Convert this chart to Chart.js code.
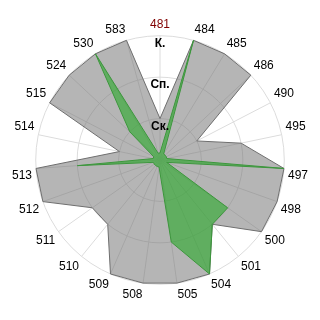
<!DOCTYPE html>
<html>
<head>
<meta charset="utf-8">
<script src="https://cdn.jsdelivr.net/npm/chart.js@4"></script>
<style>
  html, body { margin: 0; padding: 0; background: #fff; }
  #wrap { width: 320px; height: 320px; }
</style>
</head>
<body>
<div id="wrap"><canvas id="radarChart"></canvas></div>
<script>
// categories clockwise from the top
const categories = ['481', '484', '485', '486', '490', '495', '497', '498', '500', '501', '504', '505',
                    '508', '509', '510', '511', '512', '513', '514', '515', '524', '530', '583'];
// level names for the rings 1..3
const levelLabels = ['Ск.', 'Сп.', 'К.'];
const levelValues = [1, 2, 3];

const greySeries  = [1, 3, 3, 3, 1, 2, 3, 3, 3, 2, 3, 3, 3, 3, 2, 2, 3, 3, 1, 3, 3, 3, 3];
const greenSeries = [0.17, 3, 0.17, 0.17, 0.17, 0.17, 3, 0.17, 2, 2, 3, 2,
                     0.17, 0.17, 0.17, 0.17, 0.17, 2, 0.17, 0.17, 1, 3, 0.17];

// draws the ring names just inside each ring, on top of the data
const levelLabelPlugin = {
    id: 'levelLabels',
    afterDatasetsDraw(chart) {
        const scale = chart.scales.r;
        const ctx = chart.ctx;
        ctx.save();
        ctx.font = 'bold 12px "Liberation Sans", Arial, sans-serif';
        ctx.fillStyle = '#000';
        ctx.textAlign = 'center';
        ctx.textBaseline = 'top';
        levelValues.forEach((v, i) => {
            const d = scale.getDistanceFromCenterForValue(v);
            ctx.fillText(levelLabels[i], scale.xCenter, scale.yCenter - d + 2);
        });
        ctx.restore();
    }
};

const ctx = document.getElementById('radarChart').getContext('2d');
new Chart(ctx, {
    type: 'radar',
    data: {
        labels: categories,
        datasets: [{
            data: greenSeries,
            order: 0,
            backgroundColor: 'rgba(40, 170, 40, 0.6)',
            borderColor: 'rgb(60, 150, 60)',
            borderWidth: 1,
            fill: true
        }, {
            data: greySeries,
            order: 1,
            backgroundColor: 'rgba(120, 120, 120, 0.55)',
            borderColor: 'rgb(110, 110, 110)',
            borderWidth: 1,
            fill: true
        }]
    },
    options: {
        responsive: true,
        maintainAspectRatio: false,
        animation: false,
        layout: { padding: 12 },
        elements: {
            point: { radius: 0, hoverRadius: 0 },
            line: { tension: 0 }
        },
        plugins: {
            legend: { display: false },
            tooltip: { enabled: false }
        },
        scales: {
            r: {
                min: 0,
                max: 3,
                ticks: { stepSize: 1, display: false },
                grid: { circular: true, color: '#dcdcdc' },
                angleLines: { color: '#dcdcdc' },
                pointLabels: {
                    padding: 4,
                    font: { family: '"Liberation Sans", Arial, sans-serif', size: 12 },
                    color: (c) => c.index === 0 ? '#800000' : '#000'
                }
            }
        }
    },
    plugins: [levelLabelPlugin]
});
</script>
</body>
</html>
